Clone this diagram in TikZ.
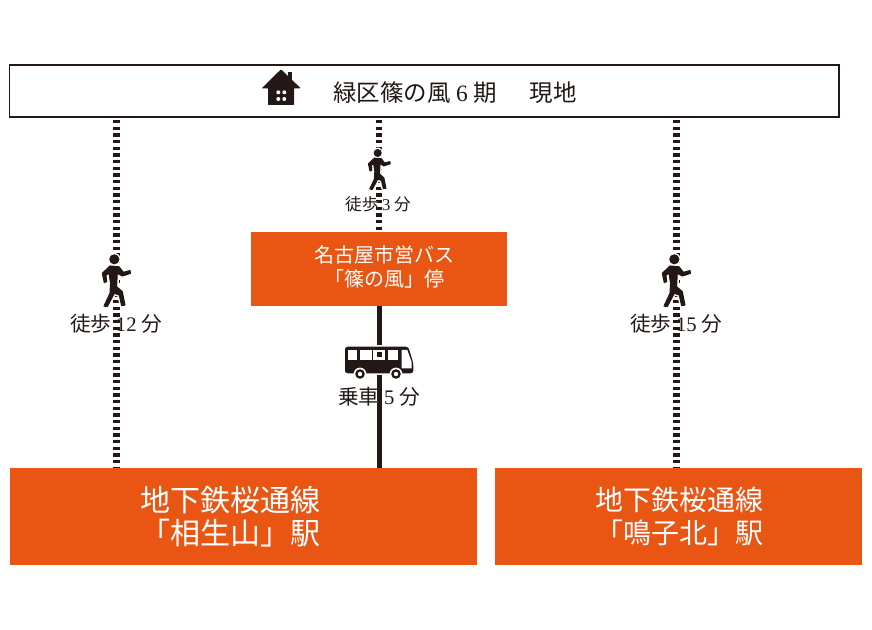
\documentclass[tikz,border=0pt]{standalone}
\usepackage{fontspec}
\usepackage[outline]{contour}
\setmainfont{Liberation Serif}
\newfontfamily\cjk{Noto Sans CJK JP}
\contourlength{.9pt}
\definecolor{ink}{HTML}{231815}
\definecolor{rail}{HTML}{E95513}
\newcommand{\num}[1]{{\rmfamily #1}}
\newcommand{\walkerpath}{
(0,0) circle (4.5)
(-4.3,6.7) -- (-12,14) -- (-10,23.3) -- (-7.7,22.3) -- (-8.3,15.7) -- (-5.3,14) -- (-3.7,24) -- (-4.3,34) -- (-10.3,46.7) -- (-7,47.3) -- (0,34) -- (5,35.7) -- (7.3,46.3) -- (10.7,45.7) -- (8,32.3) -- (2.3,27.3) -- (3,14) -- (8,16.7) -- (16.3,14) -- (15.7,11.3) -- (9,13) -- (4.7,7.5) -- cycle
}
\begin{document}
\begin{tikzpicture}[x=0.75pt,y=-0.75pt]
\tikzset{
% Boxes: the address bar and the orange stops
place box/.style={draw=ink,fill=white,line width=1pt,minimum width=829.5*0.75pt,minimum height=52*0.75pt,inner sep=0},
stop box/.style={fill=rail,inner sep=0},
stop label/.style={text=white,inner sep=0,align=center},
% Three kinds of label
bar label/.style={text=ink,inner sep=0,font=\cjk\fontsize{17.6}{20}\selectfont},
time label/.style={text=ink,inner sep=0,font=\cjk\fontsize{15.5}{18}\selectfont},
small label/.style={text=ink,inner sep=0,font=\cjk\fontsize{12.5}{15}\selectfont},
% Lines
walk line/.style={ink,line width=4.8pt,dash pattern=on 2.6pt off 2.4pt},
ride line/.style={ink,line width=3.75pt},
% Icons
walker/.pic={
\draw[white,line width=3pt,line join=round] \walkerpath;
\filldraw[ink,line width=.8pt,line join=round] \walkerpath;
},
house/.pic={
\fill[ink] (7.3,-15.7) rectangle (10.7,-6);
\fill[ink,rounded corners=.5] (0,-18.7) -- (19.7,.3) -- (13,.3) -- (13,17) -- (-13,17) -- (-13,.3) -- (-19.3,.3) -- cycle;
\foreach \dotx in {-2.7,3.3}
\foreach \doty in {4.3,11}
\fill[white] (\dotx,\doty) circle (2);
},
bus/.pic={
\path[fill=ink,draw=white,line width=2.5pt] (-34,12.3) -- (-34,-12) [rounded corners=2] -- (-34,-14.3) -- (29.3,-14.3) -- (34.3,2.3) -- (34.3,12.3) -- cycle;
\fill[ink,rounded corners=2] (-34,12.3) -- (-34,-14.3) -- (29.3,-14.3) -- (34.3,2.3) -- (34.3,12.3) -- cycle;
\fill[white] (-30.7,-11) rectangle (-22.3,-1);
\fill[white] (-19,-11) rectangle (-7.3,-1);
\fill[white] (-5.7,-11) rectangle (6,-1);
\fill[white] (9.3,-11) rectangle (19.3,-1);
\fill[white] (22.7,-11) -- (28.3,-11) -- (32.7,1.3) -- (32.7,7.3) -- (22.7,7.3) -- cycle;
\fill[ink] (-2.3,-8.7) rectangle (2.7,-4.3);
\foreach \wheelx in {-19,17}{
\fill[white] (\wheelx,13) circle (6.4);
\fill[ink] (\wheelx,13) circle (4.8);
\fill[white] (\wheelx,13) circle (2.2);
}
}
}
\useasboundingbox (0,0) rectangle (872,630);

% The boxes
\node (place) [place box] at (424.25,91) {};
\node (stopbus) [stop box,minimum width=256*0.75pt,minimum height=74*0.75pt] at (379,269) {};
\node (aioi) [stop box,minimum width=467*0.75pt,minimum height=97*0.75pt] at (243.5,516.5) {};
\node (naruko) [stop box,minimum width=367*0.75pt,minimum height=97*0.75pt] at (678.5,516.5) {};

% Their names
\node (stopbus name) [stop label,font=\cjk\fontsize{15}{18.5}\selectfont] at (384,267) {名古屋市営バス\\「篠の風」停};
\node (aioi name) [stop label,font=\cjk\fontsize{22.5}{25}\selectfont] at (230.5,516.5) {地下鉄桜通線\\「相生山」駅};
\node (naruko name) [stop label,font=\cjk\fontsize{21}{25}\selectfont] at (679,516.5) {地下鉄桜通線\\「鳴子北」駅};

% Line ends under the address bar
\coordinate (left start) at (116.5,120);
\coordinate (mid start) at (379,120);
\coordinate (right start) at (676.5,120);
\draw[walk line] (left start) -- (left start |- aioi.north);
\draw[walk line] (mid start) -- (mid start |- stopbus.north);
\draw[walk line] (right start) -- (right start |- naruko.north);
\draw[ride line] (stopbus.south) -- (stopbus.south |- aioi.north);

% Address bar content
\pic (home) at (281,88) {house};
\node (address) [bar label] at (415,93) {緑区篠の風 \num{6} 期};
\node (site) [bar label] at (553,93) {現地};

% Walkers and times
\pic (walkleft) at (114.3,259.3) {walker};
\pic (walkright) at (674.3,259.3) {walker};
\pic[scale=.77] (walkmid) at (377.7,153) {walker};
\pic (coach) at (379,361) {bus};
\node (timeleft) [time label] at (116,324) {\contour{white}{徒歩 \num{12} 分}};
\node (timeright) [time label] at (676,324) {\contour{white}{徒歩 \num{15} 分}};
\node (timemid) [small label] at (378,204) {\contour{white}{徒歩 \num{3} 分}};
\node (timebus) [time label] at (379,397) {\contour{white}{乗車 \num{5} 分}};
\end{tikzpicture}
\end{document}
